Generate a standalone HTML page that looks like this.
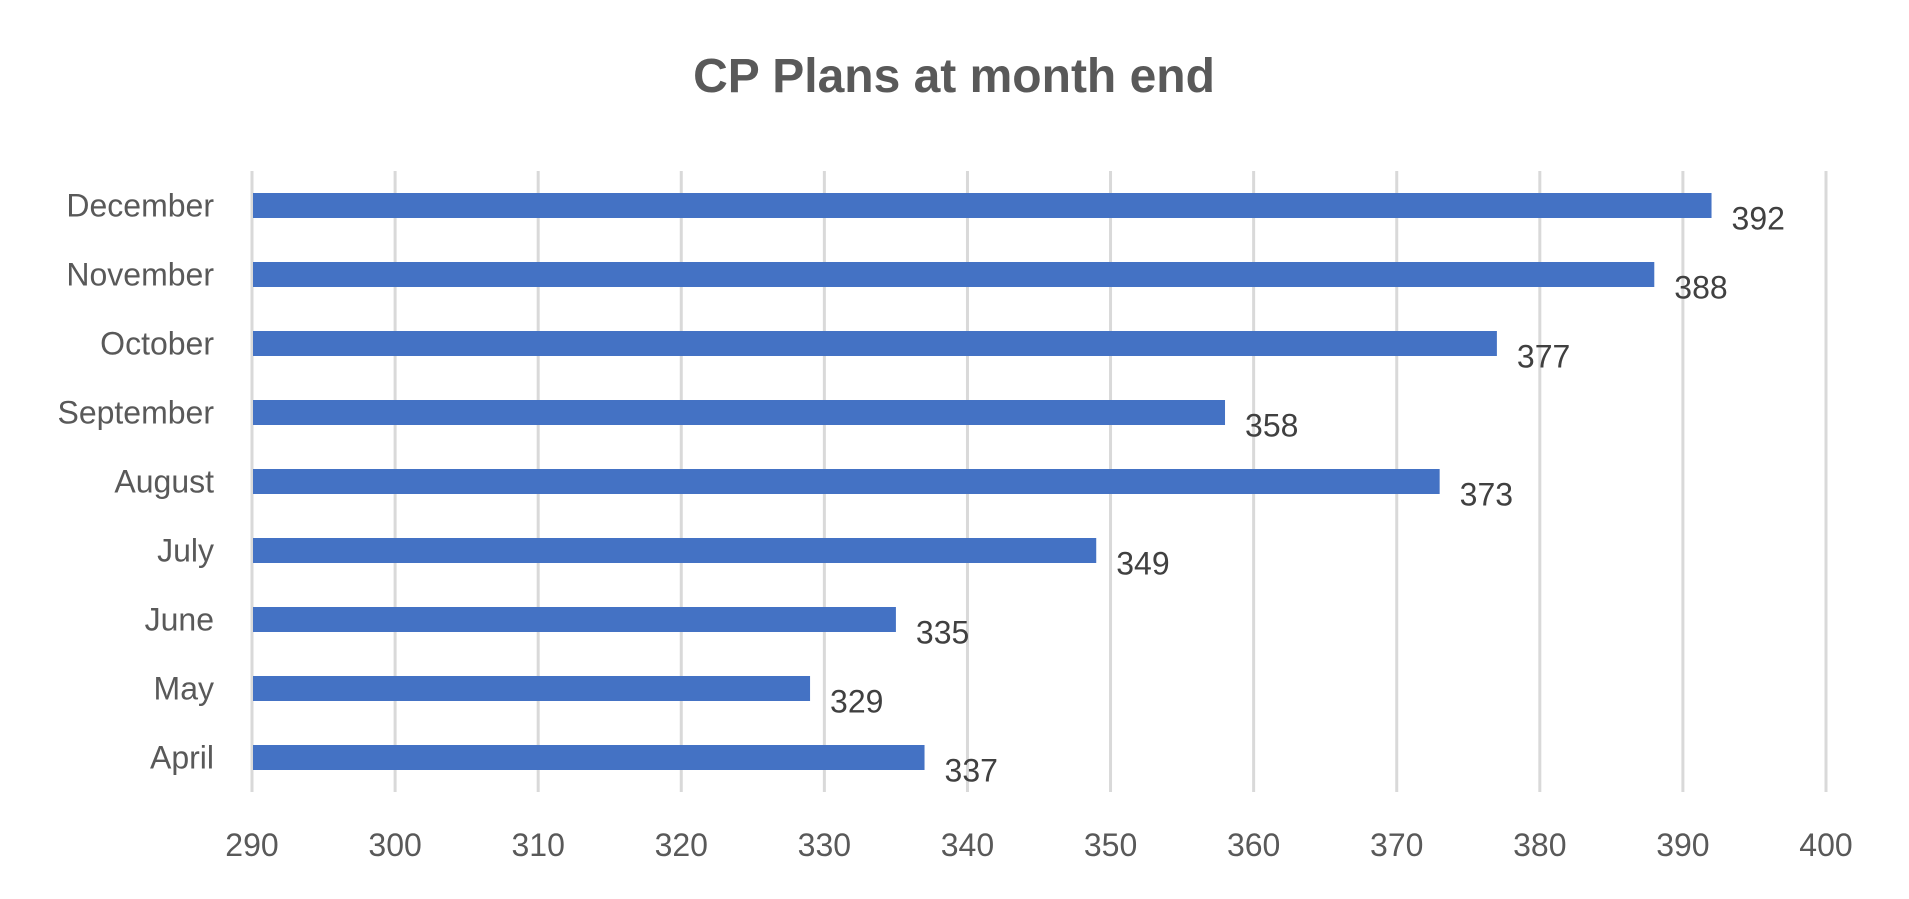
<!DOCTYPE html>
<html><head><meta charset="utf-8"><style>
body{margin:0;background:#fff}
svg{display:block;font-family:"Liberation Sans",Carlito,sans-serif}
</style></head><body>
<svg id="chart" width="1909" height="899" viewBox="0 0 1909 899">
<text x="954" y="92" text-anchor="middle" font-size="48" font-weight="bold" fill="#595959">CP Plans at month end</text>
<g id="grid"></g><g id="bars"></g><g id="labels"></g>
</svg>
<script>
const categories=["April","May","June","July","August","September","October","November","December"];
const values=[337,329,335,349,373,358,377,388,392];
const ticks=[290,300,310,320,330,340,350,360,370,380,390,400];
const NS="http://www.w3.org/2000/svg";
const plotX0=252,plotX1=1826,plotTop=171,plotBot=792,vmin=290,vmax=400;
function xs(v){return plotX0+(v-vmin)/(vmax-vmin)*(plotX1-plotX0);}
const band=(plotBot-plotTop)/categories.length;
function yc(i){return plotBot-(i+0.5)*band;}
function mk(t,a,p){const e=document.createElementNS(NS,t);for(const k in a)e.setAttribute(k,a[k]);p.appendChild(e);return e;}
const gGrid=document.getElementById('grid'),gBars=document.getElementById('bars'),gLab=document.getElementById('labels');
ticks.forEach(t=>{
 const ln=mk('line',{x1:xs(t),x2:xs(t),y1:plotTop,y2:plotBot,stroke:'#d9d9d9','stroke-width':3},gGrid);
 
 
 const tx=mk('text',{x:xs(t),y:856,'text-anchor':'middle','font-size':32,fill:'#595959'},gGrid);
 tx.textContent=t;
 
 
});
categories.forEach((c,i)=>{
 const y=yc(i);
 const r=mk('rect',{x:plotX0+1,y:y-12.5,width:xs(values[i])-plotX0-1,height:25,fill:'#4472C4'},gBars);
 
 
 const ct=mk('text',{x:214,y:y+11,'text-anchor':'end','font-size':32,fill:'#595959'},gLab);
 ct.textContent=c;
 
 
 const vt=mk('text',{x:xs(values[i])+20,y:y+24,'font-size':32,fill:'#404040'},gLab);
 vt.textContent=values[i];
 
 
});
</script>
</body></html>
